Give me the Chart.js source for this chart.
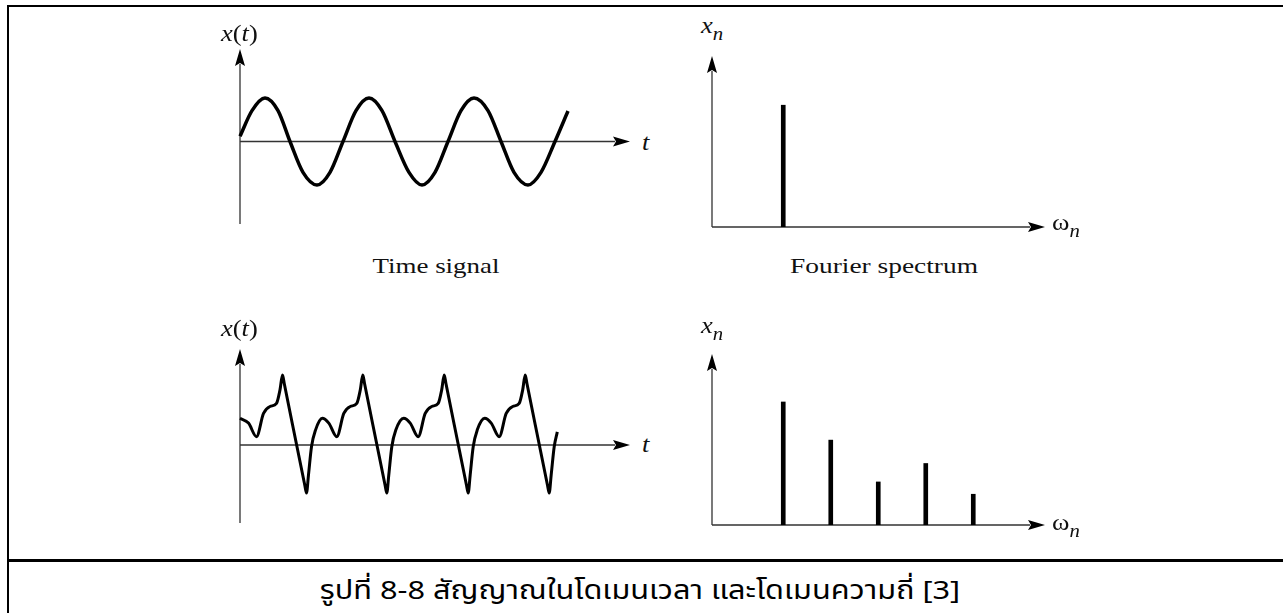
<!DOCTYPE html>
<html>
<head>
<meta charset="utf-8">
<script src="https://cdn.jsdelivr.net/npm/chart.js"></script>
<style>
  body { margin: 0; width: 1283px; height: 613px; overflow: hidden; position: relative; background: #fff; }
  #frame { position: absolute; left: 7px; top: 5px; right: -10px; bottom: -10px; border-left: 2px solid #000; border-top: 2px solid #000; }
  #sep { position: absolute; left: 7px; right: 0; top: 559px; height: 3px; background: #000; }
  canvas { position: absolute; }
  .m { position: absolute; font-family: "Liberation Serif", "Times New Roman", serif; font-size: 23px; line-height: 23px; white-space: nowrap; color: #111; transform-origin: 0 0; transform: scaleX(1.15); }
  .m sub { font-size: 18px; vertical-align: baseline; position: relative; top: 7px; font-style: italic; }
  .cap { position: absolute; font-family: "Liberation Serif", "Times New Roman", serif; font-size: 21px; line-height: 21px; white-space: nowrap; color: #111; transform-origin: 50% 0; }
  #caption { position: absolute; font-family: "Noto Sans Thai", "Tahoma", "Noto Sans", "DejaVu Sans", sans-serif; font-size: 26px; line-height: 30px; white-space: nowrap; color: #000; transform-origin: 50% 0; }
</style>
</head>
<body>
<div id="frame"></div>
<div id="sep"></div>

<canvas id="sine" width="414" height="199" style="left:228px;top:37px"></canvas>
<canvas id="spec1" width="357" height="195" style="left:700px;top:44px"></canvas>
<canvas id="dist" width="414" height="198" style="left:228px;top:337px"></canvas>
<canvas id="spec2" width="357" height="195" style="left:700px;top:342px"></canvas>

<!-- libellés des axes -->
<div class="m" style="left:221px;top:22px"><i>x</i>(<i>t</i>)</div>
<div class="m" style="left:642px;top:131px"><i>t</i></div>
<div class="m" style="left:701px;top:14px"><i>x</i><sub>n</sub></div>
<div class="m" style="left:1052px;top:211px">ω<sub>n</sub></div>

<div class="m" style="left:221px;top:317px"><i>x</i>(<i>t</i>)</div>
<div class="m" style="left:642px;top:433px"><i>t</i></div>
<div class="m" style="left:701px;top:314px"><i>x</i><sub>n</sub></div>
<div class="m" style="left:1052px;top:511px">ω<sub>n</sub></div>

<div class="cap" id="lblTime" data-w="127" style="left:436px;top:256px">Time signal</div>
<div class="cap" id="lblFourier" data-w="188" style="left:884px;top:256px">Fourier spectrum</div>

<div id="caption" data-w="640" style="left:640px;top:576px">รูปที่ 8-8 สัญญาณในโดเมนเวลา และโดเมนความถี่ [3]</div>

<script>
// Signal sinusoïdal (haut gauche)
const sineT = [0.00, 0.12, 0.25, 0.38, 0.50, 0.63, 0.77, 0.90, 1.03, 1.16, 1.29, 1.42, 1.55,
               1.69, 1.82, 1.95, 2.08, 2.21, 2.34, 2.48, 2.61, 2.74, 2.88, 3.01, 3.15, 3.28];
const sineX = [0.12, 0.71, 1.00, 0.71, 0.00, -0.71, -1.00, -0.71, 0.00, 0.71, 1.00, 0.71, 0.00,
               -0.71, -1.00, -0.71, 0.00, 0.71, 1.00, 0.71, 0.00, -0.71, -1.00, -0.71, 0.00, 0.70];

// Signal déformé (bas gauche)
const distT = [
  0.000, 0.085, 0.165, 0.235, 0.300, 0.365, 0.400, 0.425, 0.443, 0.648, 0.665, 0.685, 0.715, 0.755,
  0.823, 0.888, 0.968, 1.038, 1.103, 1.168, 1.203, 1.228, 1.246, 1.451, 1.468, 1.488, 1.518, 1.558,
  1.637, 1.702, 1.782, 1.852, 1.917, 1.982, 2.017, 2.042, 2.060, 2.265, 2.282, 2.302, 2.332, 2.372,
  2.447, 2.512, 2.592, 2.662, 2.727, 2.792, 2.827, 2.852, 2.870, 3.075, 3.092, 3.112, 3.142, 3.173
];
const distX = [
  0.61, 0.50, 0.19, 0.72, 0.88, 0.95, 1.26, 1.60, 1.40, -0.92, -1.10, -0.68, -0.04, 0.34,
  0.61, 0.50, 0.19, 0.72, 0.88, 0.95, 1.26, 1.60, 1.40, -0.92, -1.10, -0.68, -0.04, 0.34,
  0.61, 0.50, 0.19, 0.72, 0.88, 0.95, 1.26, 1.60, 1.40, -0.92, -1.10, -0.68, -0.04, 0.34,
  0.61, 0.50, 0.19, 0.72, 0.88, 0.95, 1.26, 1.60, 1.40, -0.92, -1.10, -0.68, -0.04, 0.30
];

// Spectres
const freqTop = [1.5];
const ampTop = [9.9];
const freqBottom = [1.5, 2.5, 3.5, 4.5, 5.5];
const ampBottom = [10.0, 6.9, 3.5, 5.0, 2.5];

const PAD = 12;
const ARROW_LEN = 17;
const ARROW_HALF = 5;

// Axes avec flèches, dessinés à partir des échelles
const arrowAxes = {
  id: 'arrowAxes',
  beforeDatasetsDraw(chart) {
    const { ctx, chartArea: a, scales: { x, y } } = chart;
    const x0 = x.getPixelForValue(0);
    const y0 = y.getPixelForValue(0);
    ctx.save();
    ctx.strokeStyle = '#333';
    ctx.lineWidth = 1.3;
    ctx.beginPath();
    ctx.moveTo(x0, a.bottom);
    ctx.lineTo(x0, a.top + ARROW_LEN - 2);
    ctx.moveTo(x0, y0);
    ctx.lineTo(a.right - ARROW_LEN + 2, y0);
    ctx.stroke();

    ctx.fillStyle = '#000';
    ctx.beginPath();
    ctx.moveTo(x0, a.top);
    ctx.lineTo(x0 - ARROW_HALF, a.top + ARROW_LEN);
    ctx.lineTo(x0, a.top + ARROW_LEN - 3);
    ctx.lineTo(x0 + ARROW_HALF, a.top + ARROW_LEN);
    ctx.closePath();
    ctx.fill();

    ctx.beginPath();
    ctx.moveTo(a.right, y0);
    ctx.lineTo(a.right - ARROW_LEN, y0 - ARROW_HALF);
    ctx.lineTo(a.right - ARROW_LEN + 3, y0);
    ctx.lineTo(a.right - ARROW_LEN, y0 + ARROW_HALF);
    ctx.closePath();
    ctx.fill();
    ctx.restore();
  }
};

function baseOptions(xMax, yMin, yMax) {
  return {
    responsive: false,
    animation: false,
    events: [],
    layout: { padding: PAD },
    plugins: { legend: { display: false }, tooltip: { enabled: false } },
    scales: {
      x: { type: 'linear', min: 0, max: xMax, offset: false, display: false },
      y: { type: 'linear', min: yMin, max: yMax, display: false }
    }
  };
}

function lineChart(id, ts, xs, width, yMin, yMax) {
  new Chart(document.getElementById(id), {
    type: 'line',
    data: {
      datasets: [{
        data: ts.map((t, i) => ({ x: t, y: xs[i] })),
        borderColor: '#000',
        borderWidth: width,
        pointRadius: 0,
        cubicInterpolationMode: 'monotone',
        clip: false,
        fill: false
      }]
    },
    options: baseOptions(3.9, yMin, yMax),
    plugins: [arrowAxes]
  });
}

function stemChart(id, freqs, amps) {
  new Chart(document.getElementById(id), {
    type: 'bar',
    data: {
      datasets: [{
        data: freqs.map((f, i) => ({ x: f, y: amps[i] })),
        backgroundColor: '#000',
        borderWidth: 0,
        barThickness: 4
      }]
    },
    options: baseOptions(7.01, 0, 13.9),
    plugins: [arrowAxes]
  });
}

lineChart('sine', sineT, sineX, 3.5, -1.897, 2.126);
lineChart('dist', distT, distX, 3, -1.783, 2.194);
stemChart('spec1', freqTop, ampTop);
stemChart('spec2', freqBottom, ampBottom);

// Étirement horizontal des textes comme dans l'image d'origine
function fitText() {
  document.querySelectorAll('[data-w]').forEach(el => {
    const k = Number(el.dataset.w) / el.offsetWidth;
    el.style.transform = `translateX(-50%) scaleX(${k})`;
  });
}
fitText();
if (document.fonts) document.fonts.ready.then(fitText);
</script>
</body>
</html>
